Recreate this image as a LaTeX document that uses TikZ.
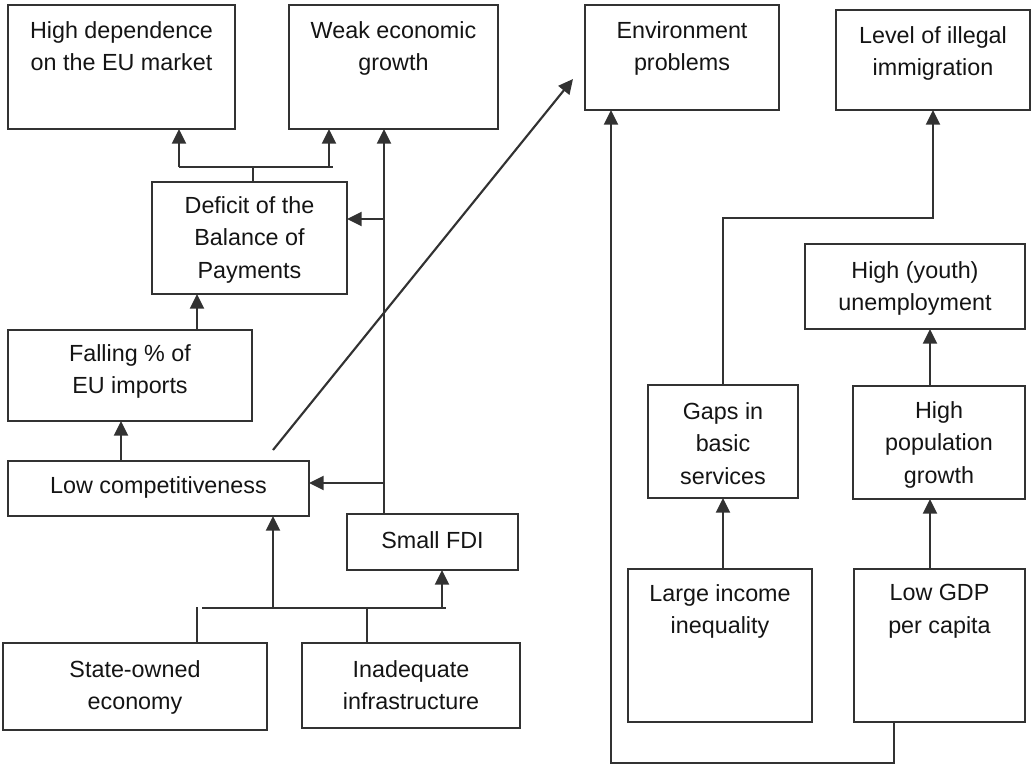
\documentclass[tikz,border=0pt]{standalone}
\usepackage{fontspec}
\setmainfont{Liberation Sans}
\usetikzlibrary{calc,arrows.meta}
\definecolor{ln}{RGB}{50,50,50}
\definecolor{tx}{RGB}{20,20,20}
\newcommand{\mkbox}[5]{\node[box, minimum width={(#4-#2)*0.75pt}, minimum height={(#5-#3)*0.75pt}] (#1) at ({(#2+#4)/2},{(#3+#5)/2}) {};}
\begin{document}
\begin{tikzpicture}[x=0.75pt,y=-0.75pt,
  box/.style={draw=ln, line width=1.7pt, inner sep=0pt, outer sep=0pt},
  txt/.style={text=tx, align=center, inner sep=0pt, font=\fontsize{17.5}{24.4}\selectfont, anchor=north},
  conn/.style={draw=ln, line width=1.6pt},
  arr/.style={conn, -{Triangle[length=11pt,width=10.5pt]}}]
\useasboundingbox (0,0) rectangle (1032,765);
% boxes
\mkbox{hd}{8}{5}{235}{129}
\mkbox{weak}{289}{5}{498}{129}
\mkbox{env}{585}{5}{779}{110}
\mkbox{lvl}{836}{10}{1030}{110}
\mkbox{def}{152}{182}{347}{294}
\mkbox{fall}{8}{330}{252}{421}
\mkbox{lc}{8}{461}{309}{516}
\mkbox{fdi}{347}{514}{518}{570}
\mkbox{state}{3}{643}{267}{730}
\mkbox{inad}{302}{643}{520}{728}
\mkbox{youth}{805}{244}{1025}{329}
\mkbox{gaps}{648}{385}{798}{498}
\mkbox{pop}{853}{386}{1025}{499}
\mkbox{large}{628}{569}{812}{722}
\mkbox{gdp}{854}{569}{1025}{722}
% texts
\node[txt] (hdT) at ($(hd.north)+(0,16)$) {High dependence\\on the EU market};
\node[txt] (weakT) at ($(weak.north)+(0,16)$) {Weak economic\\growth};
\node[txt] (envT) at ($(env.north)+(0,16)$) {Environment\\problems};
\node[txt] (lvlT) at ($(lvl.north)+(0,16)$) {Level of illegal\\immigration};
\node[txt] (defT) at ($(def.north)+(0,14)$) {Deficit of the\\Balance of\\Payments};
\node[txt] (fallT) at ($(fall.north)+(0,14)$) {Falling \% of\\EU imports};
\node[txt, anchor=base] (lcT) at ($(lc.center)+(0,4.5)$) {Low competitiveness};
\node[txt, anchor=base] (fdiT) at ($(fdi.center)+(0,6)$) {Small FDI};
\node[txt] (stateT) at ($(state.north)+(0,17)$) {State-owned\\economy};
\node[txt] (inadT) at ($(inad.north)+(0,17)$) {Inadequate\\infrastructure};
\node[txt] (youthT) at ($(youth.north)+(0,17)$) {High (youth)\\unemployment};
\node[txt] (gapsT) at ($(gaps.north)+(0,17)$) {Gaps in\\basic\\services};
\node[txt] (popT) at ($(pop.north)+(0,15)$) {High\\population\\growth};
\node[txt] (largeT) at ($(large.north)+(0,15)$) {Large income\\inequality};
\node[txt] (gdpT) at ($(gdp.north)+(0,15)$) {Low GDP\\per capita};
% connectors: deficit branch
\coordinate (jA) at (179,167);
\coordinate (jB) at (333,167);
\coordinate (jC) at (253,167);
\coordinate (jD) at (329,167);
\draw[conn] (def.north -| jC) -- (jC);
\draw[conn] (jA) -- (jB);
\draw[arr] (jA) -- (hd.south -| jA);
\draw[arr] (jD) -- (weak.south -| jD);
% small FDI trunk
\coordinate (vx) at (384,0);
\draw[arr] (fdi.north -| vx) -- (weak.south -| vx);
\coordinate (vd) at (384,219);
\draw[arr] (vd) -- (def.east |- vd);
\coordinate (vl) at (384,483);
\draw[arr] (vl) -- (lc.east |- vl);
% diagonal
\coordinate (dg1) at (273,450);
\coordinate (dg2) at (573,79);
\draw[arr] (dg1) -- (dg2);
% left column
\coordinate (fx) at (121,0);
\draw[arr] (lc.north -| fx) -- (fall.south -| fx);
\coordinate (dx) at (197,0);
\draw[arr] (fall.north -| dx) -- (def.south -| dx);
% bottom branch
\coordinate (bL) at (202,608);
\coordinate (bR) at (446,608);
\draw[conn] (bL) -- (bR);
\coordinate (sx) at (197,607);
\draw[conn] (state.north -| sx) -- (sx);
\coordinate (ix) at (367,608);
\draw[conn] (inad.north -| ix) -- (ix);
\coordinate (lx) at (273,608);
\draw[arr] (lx) -- (lc.south -| lx);
\coordinate (fx2) at (442,608);
\draw[arr] (fx2) -- (fdi.south -| fx2);
% right part
\coordinate (gx) at (894,0);
\coordinate (ex) at (611,763);
\draw[arr] (gdp.south -| gx) |- (ex) -- (env.south -| ex);
\coordinate (gi) at (933,218);
\draw[arr] (gaps.north) |- (gi) -- (lvl.south -| gi);
\draw[arr] (large.north -| gaps.south) -- (gaps.south);
\coordinate (px) at (930,0);
\draw[arr] (gdp.north -| px) -- (pop.south -| px);
\draw[arr] (pop.north -| px) -- (youth.south -| px);
\end{tikzpicture}
\end{document}
